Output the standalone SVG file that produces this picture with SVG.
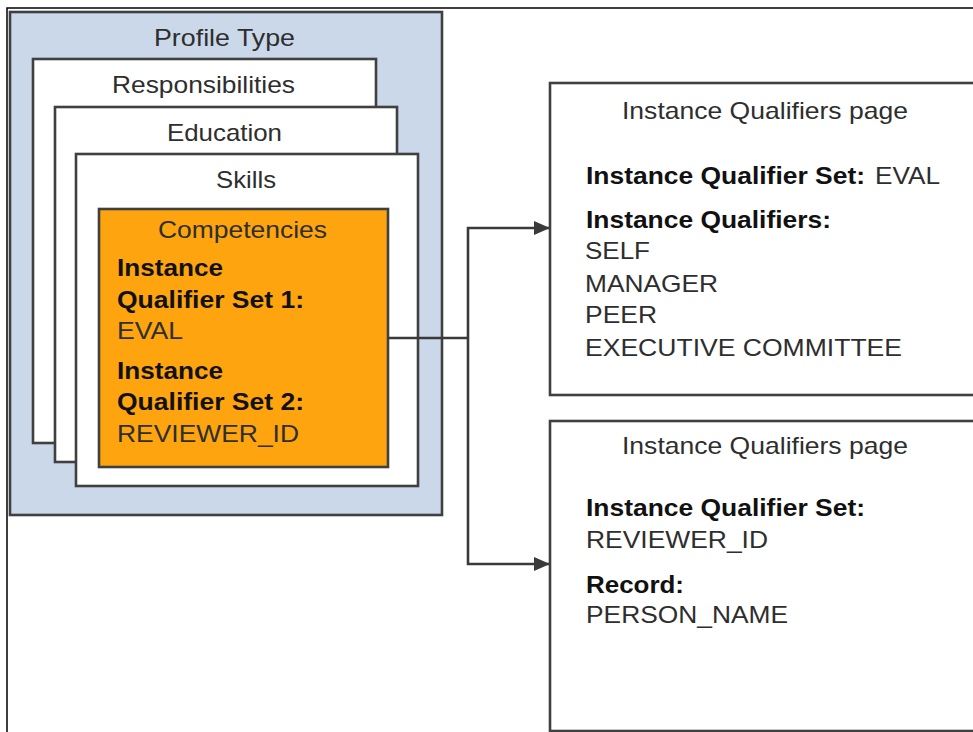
<svg xmlns="http://www.w3.org/2000/svg" width="973" height="732" viewBox="0 0 973 732">
<defs>
<style>
.box{stroke:#404040;stroke-width:2.6}
.blue{fill:#CBD8EA}
.white{fill:#FFFFFF}
.orange{fill:#FDA40F}
text{font-family:"Liberation Sans",Arial,sans-serif;font-size:24px;fill:#2E2E2E}
.b{font-weight:bold;fill:#111111}
.conn{fill:none;stroke:#3A3A3A;stroke-width:2.6}
</style>
<marker id="arr" markerWidth="16" markerHeight="14" refX="15" refY="7" orient="auto" markerUnits="userSpaceOnUse">
<path d="M0,0 L16,7 L0,14 Z" fill="#3A3A3A"/>
</marker>
</defs>
<rect width="973" height="732" fill="#FFFFFF"/>
<path d="M7,732 V8 H973" fill="none" stroke="#000000" stroke-width="1.5"/>

<g id="profile-type">
<rect class="box blue" x="10" y="12" width="432" height="503"/>
<text x="154" y="46" textLength="141" lengthAdjust="spacingAndGlyphs">Profile Type</text>
</g>
<g id="responsibilities">
<rect class="box white" x="33" y="59" width="343" height="384"/>
<text x="112" y="93" textLength="183" lengthAdjust="spacingAndGlyphs">Responsibilities</text>
</g>
<g id="education">
<rect class="box white" x="55" y="107" width="342" height="355"/>
<text x="167" y="141" textLength="115" lengthAdjust="spacingAndGlyphs">Education</text>
</g>
<g id="skills">
<rect class="box white" x="76" y="154" width="342" height="332"/>
<text x="216" y="188" textLength="60" lengthAdjust="spacingAndGlyphs">Skills</text>
</g>
<g id="competencies">
<rect class="box orange" x="99" y="209" width="289" height="258"/>
<text x="158" y="238" textLength="169" lengthAdjust="spacingAndGlyphs">Competencies</text>
<text class="b" x="117" y="276" textLength="106" lengthAdjust="spacingAndGlyphs">Instance</text>
<text class="b" x="117" y="308" textLength="187" lengthAdjust="spacingAndGlyphs">Qualifier Set 1:</text>
<text x="117" y="339" textLength="66" lengthAdjust="spacingAndGlyphs">EVAL</text>
<text class="b" x="117" y="379" textLength="106" lengthAdjust="spacingAndGlyphs">Instance</text>
<text class="b" x="117" y="410" textLength="187" lengthAdjust="spacingAndGlyphs">Qualifier Set 2:</text>
<text x="117" y="442" textLength="182" lengthAdjust="spacingAndGlyphs">REVIEWER_ID</text>
</g>

<g id="iq-page-eval">
<rect class="box white" x="550" y="83" width="440" height="312"/>
<text x="622" y="119" textLength="286" lengthAdjust="spacingAndGlyphs">Instance Qualifiers page</text>
<text class="b" x="586" y="184" textLength="279" lengthAdjust="spacingAndGlyphs">Instance Qualifier Set:</text>
<text x="875" y="184" textLength="65" lengthAdjust="spacingAndGlyphs">EVAL</text>
<text class="b" x="586" y="228" textLength="245" lengthAdjust="spacingAndGlyphs">Instance Qualifiers:</text>
<text x="585" y="259" textLength="65" lengthAdjust="spacingAndGlyphs">SELF</text>
<text x="585" y="292" textLength="133" lengthAdjust="spacingAndGlyphs">MANAGER</text>
<text x="585" y="323" textLength="72" lengthAdjust="spacingAndGlyphs">PEER</text>
<text x="585" y="356" textLength="317" lengthAdjust="spacingAndGlyphs">EXECUTIVE COMMITTEE</text>
</g>

<g id="iq-page-reviewer">
<rect class="box white" x="550" y="421" width="440" height="310"/>
<text x="622" y="454" textLength="286" lengthAdjust="spacingAndGlyphs">Instance Qualifiers page</text>
<text class="b" x="586" y="516" textLength="279" lengthAdjust="spacingAndGlyphs">Instance Qualifier Set:</text>
<text x="586" y="548" textLength="182" lengthAdjust="spacingAndGlyphs">REVIEWER_ID</text>
<text class="b" x="586" y="593" textLength="98" lengthAdjust="spacingAndGlyphs">Record:</text>
<text x="586" y="623" textLength="202" lengthAdjust="spacingAndGlyphs">PERSON_NAME</text>
</g>

<g id="connectors">
<path class="conn" d="M388,338 H468"/>
<path class="conn" d="M468,338 V228 H549" marker-end="url(#arr)"/>
<path class="conn" d="M468,338 V564 H549" marker-end="url(#arr)"/>
</g>
</svg>
